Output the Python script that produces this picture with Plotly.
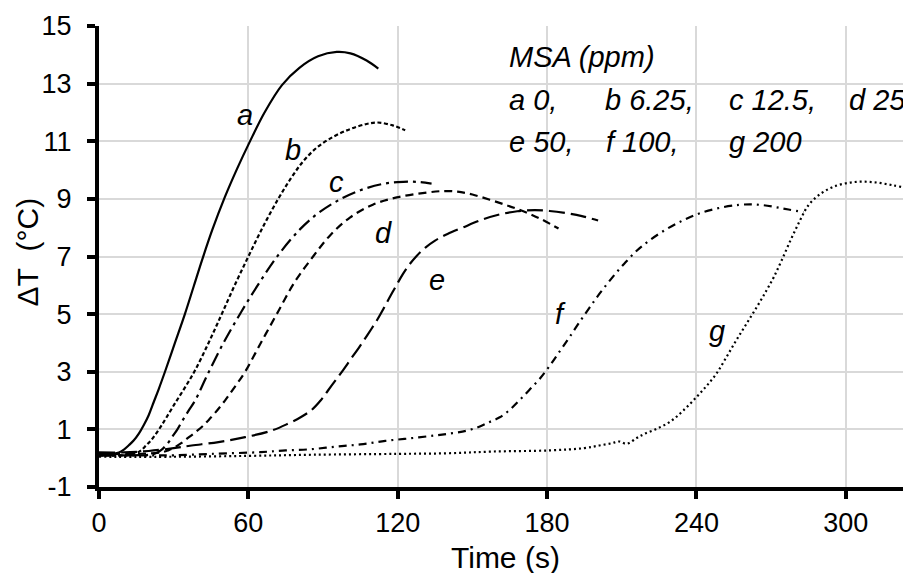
import plotly.graph_objects as go

# ---- data ----
a_x = [0, 5, 8, 10, 12, 14, 16, 18, 20, 22, 24, 26.5, 30.5, 34.5, 38, 41.5, 45.5, 50.5, 55.5, 60.5, 66.5, 73.5, 80.5, 88, 95.5, 101, 107.5, 112.2]
a_y = [0.15, 0.15, 0.2, 0.3, 0.45, 0.62, 0.85, 1.15, 1.5, 1.95, 2.4, 3.0, 4.0, 5.0, 5.95, 6.9, 7.92, 9.05, 10.05, 10.97, 12.0, 12.95, 13.55, 13.95, 14.1, 14.05, 13.8, 13.52]

b_x = [0, 10, 14.5, 17, 19, 21, 23, 25, 27, 30.5, 34.5, 38.6, 44, 49.3, 54.5, 60, 66, 72, 77, 82, 87.5, 94, 100.8, 107.5, 112, 118, 123]
b_y = [0.1, 0.1, 0.16, 0.28, 0.45, 0.63, 0.86, 1.12, 1.4, 1.9, 2.45, 3.05, 4.0, 5.0, 6.0, 7.0, 8.05, 9.0, 9.7, 10.3, 10.78, 11.15, 11.42, 11.6, 11.65, 11.55, 11.38]

c_x = [0, 10, 20, 23, 25.2, 27.5, 29.5, 31.5, 33.5, 36, 38.6, 43.3, 50, 57.3, 64.5, 72, 80.8, 88, 96.8, 105, 114, 120, 125, 129, 133.6]
c_y = [0.1, 0.1, 0.12, 0.18, 0.3, 0.5, 0.75, 1.0, 1.3, 1.65, 2.0, 2.85, 4.0, 5.1, 6.1, 7.05, 7.95, 8.5, 8.98, 9.3, 9.52, 9.58, 9.6, 9.58, 9.53]

d_x = [0, 15, 25, 28, 30.5, 33, 36, 39, 41.5, 44, 46.6, 50.6, 54.5, 58.7, 65, 71.4, 78.5, 86, 93, 100.8, 110, 119.6, 130, 138, 144, 150, 157, 163, 168, 173, 178, 184.6]
d_y = [0.15, 0.15, 0.2, 0.28, 0.38, 0.52, 0.72, 0.92, 1.1, 1.32, 1.57, 2.0, 2.47, 3.0, 4.0, 5.0, 6.1, 7.0, 7.75, 8.35, 8.8, 9.05, 9.2, 9.27, 9.25, 9.15, 8.97, 8.8, 8.65, 8.48, 8.28, 7.97]

e_x = [0, 10, 20, 30, 37.2, 48, 58.7, 69.4, 76, 81, 85.5, 89, 92, 95, 98, 101, 104.5, 108, 111.6, 114.5, 117, 119.6, 122, 124.5, 127.6, 131, 135, 140, 146, 154, 161, 168, 175, 181, 188, 194, 200.5]
e_y = [0.2, 0.2, 0.25, 0.35, 0.44, 0.56, 0.73, 0.96, 1.2, 1.42, 1.68, 2.0, 2.35, 2.7, 3.05, 3.42, 3.85, 4.3, 4.78, 5.22, 5.62, 6.02, 6.38, 6.7, 7.02, 7.3, 7.55, 7.78, 8.0, 8.28, 8.46, 8.57, 8.61, 8.58, 8.5, 8.4, 8.25]

f_x = [0, 20, 30, 45, 65, 75, 85, 95, 105, 115, 125, 135, 142, 148, 153, 157, 161, 165, 169, 173, 177, 181, 185, 189, 193, 197, 201, 206, 211, 216, 221, 228, 235, 242, 250, 257, 262, 267, 272, 277, 283]
f_y = [0.1, 0.1, 0.1, 0.15, 0.21, 0.27, 0.31, 0.4, 0.48, 0.6, 0.69, 0.79, 0.87, 0.96, 1.1, 1.26, 1.42, 1.68, 2.02, 2.38, 2.75, 3.2, 3.7, 4.2, 4.72, 5.22, 5.7, 6.25, 6.75, 7.2, 7.55, 7.95, 8.27, 8.52, 8.7, 8.79, 8.81, 8.78, 8.71, 8.63, 8.54]

g_x = [0, 30, 60, 86, 120, 140, 158, 181, 195, 201, 206, 209, 212, 216, 219, 224, 229.5, 234.8, 240, 244, 248, 252, 256, 260, 264.2, 268, 271, 274.3, 278, 281.6, 285, 289, 295, 303, 311, 319, 325.8]
g_y = [0.05, 0.05, 0.08, 0.12, 0.15, 0.17, 0.23, 0.27, 0.35, 0.44, 0.52, 0.58, 0.5, 0.7, 0.84, 1.02, 1.27, 1.66, 2.12, 2.5, 2.93, 3.5, 4.09, 4.65, 5.24, 5.8, 6.27, 6.88, 7.6, 8.25, 8.78, 9.12, 9.42, 9.58, 9.58, 9.47, 9.35]

series_names = ["a", "b", "c", "d", "e", "f", "g"]
series_x = [a_x, b_x, c_x, d_x, e_x, f_x, g_x]
series_y = [a_y, b_y, c_y, d_y, e_y, f_y, g_y]
series_dash = ["solid", "4px,2.5px", "14px,5px,3px,5px", "8px,5px", "16px,6px", "8px,5px,2px,5px", "2px,3px"]

# curve label letters and their positions
label_text = ["a", "b", "c", "d", "e", "f", "g"]
label_x = [58.7, 78.1, 95.6, 114.1, 135.8, 185.2, 248.3]
label_y = [11.9, 10.68, 9.57, 7.8, 6.17, 5.02, 4.43]

# legend-like annotation text
legend_title = "MSA (ppm)"
legend_text = ["a 0,", "b 6.25,", "c 12.5,", "d 25", "e 50,", "f 100,", "g 200"]
legend_x = [163.8, 202.5, 252.3, 300.5, 163.8, 203.0, 252.3]
legend_y = [12.42, 12.42, 12.42, 12.42, 10.96, 10.96, 10.96]

y_ticks = [-1, 1, 3, 5, 7, 9, 11, 13, 15]
y_ticktext = ["-1", "1", "3", "5", "7", "9", "11", "13", "15"]
x_ticks = [0, 60, 120, 180, 240, 300]
x_title = "Time (s)"
y_title = "ΔT\u00a0 (°C)"

FONT = "Liberation Sans, Arial, sans-serif"
ANN = 29

fig = go.Figure()
for name, xs, ys, dash in zip(series_names, series_x, series_y, series_dash):
    fig.add_trace(go.Scatter(
        x=xs, y=ys, mode="lines", name=name,
        line=dict(color="black", width=2.2, dash=dash, shape="spline", smoothing=1.0),
        showlegend=False, hoverinfo="skip",
    ))

annotations = []
for t, x, y in zip(label_text, label_x, label_y):
    annotations.append(dict(x=x, y=y, xref="x", yref="y", text="<i>%s</i>" % t,
                            showarrow=False, font=dict(family=FONT, size=ANN, color="black"),
                            xanchor="center", yanchor="middle"))
annotations.append(dict(x=163.8, y=13.91, xref="x", yref="y", text="<i>%s</i>" % legend_title,
                        showarrow=False, font=dict(family=FONT, size=ANN, color="black"),
                        xanchor="left", yanchor="middle"))
for t, x, y in zip(legend_text, legend_x, legend_y):
    annotations.append(dict(x=x, y=y, xref="x", yref="y", text="<i>%s</i>" % t,
                            showarrow=False, font=dict(family=FONT, size=ANN, color="black"),
                            xanchor="left", yanchor="middle"))
# axis titles
annotations.append(dict(x=0.5, y=-0.154, xref="paper", yref="paper", text=x_title,
                        showarrow=False, font=dict(family=FONT, size=30, color="black"),
                        xanchor="center", yanchor="middle"))
annotations.append(dict(x=-0.088, y=0.51, xref="paper", yref="paper", text=y_title, textangle=-90,
                        showarrow=False, font=dict(family=FONT, size=30, color="black"),
                        xanchor="center", yanchor="middle"))

fig.update_layout(
    width=903, height=565,
    margin=dict(l=91, r=0, t=18, b=86),
    paper_bgcolor="white", plot_bgcolor="white",
    font=dict(family=FONT, size=27, color="black"),
    annotations=annotations,
    xaxis=dict(
        range=[0, 326.2], tickvals=x_ticks, showgrid=True, gridcolor="#d9d9d9", gridwidth=2,
        zeroline=False, showline=True, linecolor="black", linewidth=4,
        ticks="outside", ticklen=8, tickwidth=4, tickcolor="black",
        tickfont=dict(family=FONT, size=27, color="black"), ticklabelstandoff=1,
    ),
    yaxis=dict(
        range=[-1, 15], tickvals=y_ticks, ticktext=y_ticktext, showgrid=True, gridcolor="#d9d9d9", gridwidth=2,
        zeroline=False, showline=True, linecolor="black", linewidth=4,
        ticks="outside", ticklen=8, tickwidth=4, tickcolor="black",
        tickfont=dict(family=FONT, size=27, color="black"), ticklabelstandoff=10,
    ),
)

fig.write_html("out.html")
